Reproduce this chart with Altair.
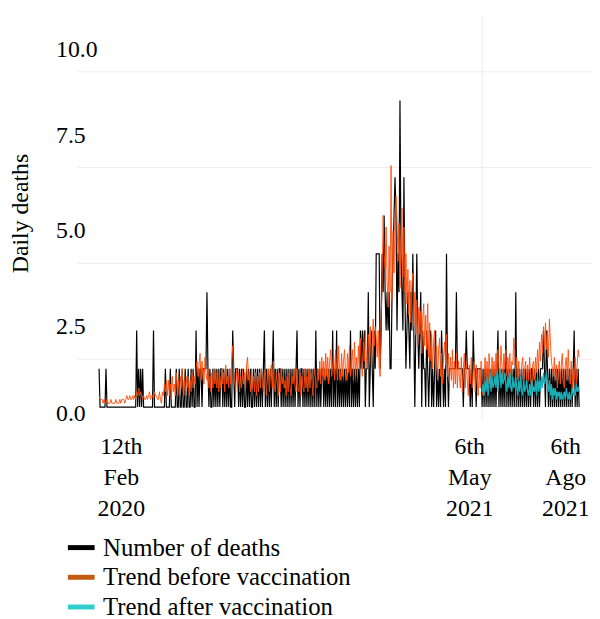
import json
import altair as alt
import pandas as pd

FONT = "Liberation Serif"

# Daily deaths (one value per day index)
deaths_txt = """
1 0 0 0 0 0 0 1 0 0
0 0 0 0 0 0 0 0 0 0
0 0 0 0 0 0 0 0 0 0
0 0 0 0 0 0 0 0 2 0
1 0 1 0 1 0 0 0 0 0
0 0 0 0 0 2 0 0 0 0
0 0 0 0 0 0 0 1 0 0
0 0 1 0 0 0 0 0 1 0
0 1 0 0 1 0 0 1 0 0
1 0 0 1 0 1 0 0 2 0
1 0 1 1 0 1 1 1 1 3
1 0 1 0 0 1 0 1 0 1
0 1 0 1 1 0 1 0 1 0
1 0 1 0 0 2 1 0 1 1
1 0 1 0 1 0 1 0 0 1
0 1 0 1 0 0 1 0 1 0
1 0 1 0 1 0 1 2 0 1
0 1 0 1 0 1 2 0 1 0
1 0 1 1 0 1 0 1 0 1
0 1 0 1 0 1 0 1 0 1
2 0 1 0 1 1 0 1 0 1
0 1 0 1 0 1 0 1 0 2
0 1 0 1 0 1 1 0 1 0
1 0 1 0 1 0 2 0 1 0
2 0 1 0 1 0 1 0 1 0
1 0 1 0 2 0 1 0 1 0
1 0 1 0 2 1 2 1 2 0
1 1 3 0 1 2 1 0 2 1
4 4 4 4 1 2 4 3 5 3
2 3 2 3 1 1 3 4 5 6
5 2 4 3 8 4 3 2 6 3
1 2 3 2 1 3 2 4 2 0
2 4 2 1 2 3 0 2 1 1
0 2 1 0 1 2 0 1 0 1
2 0 1 0 1 0 2 1 0 1
0 4 1 0 1 1 1 1 1 1
1 3 1 1 1 1 1 1 0 1
1 2 1 1 1 0 1 0 2 1
1 0 1 1 1 1 1 0 1 0
1 0 1 0 1 0 1 0 1 0
1 0 1 2 0 1 0 1 0 1
0 2 0 1 0 1 0 1 0 1
0 3 0 1 0 1 0 1 0 1
0 1 0 1 0 1 0 1 1 0
1 0 1 0 1 0 1 1 1 2
1 0 2 1 0 1 0 1 0 1
0 1 0 1 0 1 0 1 0 1
0 1 0 1 0 1 0 1 0 1
2 0 1 0 1 0
"""

# Trend before vaccination (tenths of a death)
before_txt = """
3 2 2 2 1 2 1 1 2 1
1 1 2 1 1 1 1 2 1 1
1 2 1 2 2 2 1 2 3 2
2 3 2 2 3 2 3 2 4 3
5 3 4 3 2 3 2 2 3 2
3 4 2 3 3 2 4 3 3 2
2 4 2 1 4 3 6 4 7 3
7 3 6 2 8 4 6 3 9 4
7 3 8 5 10 4 7 3 8 5
8 3 7 4 9 5 8 6 10 12
8 11 14 7 12 8 6 13 9 7
10 5 8 4 9 5 10 6 9 5
9 4 8 5 10 6 9 4 11 6
8 5 10 6 12 16 9 7 4 10
6 9 4 8 5 10 6 9 5 11
13 7 9 4 10 5 8 4 9 3
8 4 9 5 10 6 4 8 10 3
7 10 4 8 11 5 12 6 4 9
7 3 9 4 10 6 8 5 7 3
8 4 9 5 3 8 6 10 5 4
10 5 4 9 3 8 5 4 10 5
8 4 10 5 9 7 3 8 10 6
5 10 7 12 6 13 8 12 7 14
8 13 6 12 15 8 11 14 7 15
10 7 16 9 7 14 8 12 15 9
7 14 9 16 8 12 15 7 17 9
13 8 16 10 18 11 8 17 12 20
13 10 19 14 21 11 17 23 16 21
18 13 20 10 8 24 32 50 40 36
47 33 26 42 30 63 28 46 35 49
55 50 38 48 31 44 52 34 47 30
40 27 36 24 33 22 31 35 21 30
19 28 16 26 19 25 14 23 27 16
24 15 27 13 22 12 19 10 17 20
9 16 7 15 18 8 14 6 13 17
11 19 8 14 6 13 7 15 5 12
6 14 5 12 8 5 13 4 10 14
5 12 7 3 11 6 13 5 9 12
4 11 6 3 10 5 12 4 3 8
13 7 12 6 14 9 5 13 8 12
7 14 9 15 10 8 16 11 8 14
10 15 8 13 9 14 7 12 11 18
15 8 13 7 12 8 6 11 13 7
10 12 6 11 7 13 8 5 11 12
7 13 9 15 10 17 12 19 14 21
16 22 15 20 13 23 17 12 10 8
13 7 11 5 10 12 6 11 14 7
5 11 13 7 15 8 6 12 5 10
7 13 6 11 15 13
"""

# Trend after vaccination (tenths), starting at day index 387
after_start = 387
after_txt = """
4 6 3
7 4 8 3 6 9 4 8 5 6
8 5 9 4 8 10 5 9 6 7
9 6 4 8 5 9 5 4 8 5
6 8 5 3 7 4 8 4 3 7
4 5 7 4 3 6 3 7 4 5
4 7 3 8 4 7 4 8 5 9
6 7 9 6 4 7 3 6 2 5
3 5 2 4 3 4 2 4 2 3
4 2 5 3 2 4 2 3 5 3
4 3 6 4 5 4
"""

deaths = [int(t) for t in deaths_txt.split()]
trend_before = [int(t) / 10 for t in before_txt.split()]
trend_after = [int(t) / 10 for t in after_txt.split()]

series_names = ["Number of deaths", "Trend before vaccination", "Trend after vaccination"]
legend_colors = ["#000000", "#C55A11", "#33CCCC"]
line_colors = ["#000000", "#FF4A0A", "#1BB0B8"]

x_tick_pos = [22, 374, 471]
x_tick_text = ["12th|Feb|2020", "6th|May|2021", "6th|Ago|2021"]
y_tick_pos = [-0.18, 2.09, 4.6, 7.08, 9.33]
y_tick_text = ["0.0", "2.5", "5.0", "7.5", "10.0"]
grid_y = [1.25, 3.75, 6.25, 8.75]
grid_x = [387]

df_black = pd.DataFrame({"d": list(range(len(deaths))), "v": deaths})
df_before = pd.DataFrame({"d": list(range(len(trend_before))), "v": trend_before})
df_after = pd.DataFrame({"d": [after_start + i for i in range(len(trend_after))], "v": trend_after})
df_legend = pd.DataFrame({"d": [0, 0, 0], "v": [0, 0, 0], "s": series_names})

x_scale = alt.Scale(domain=[-22, 498], nice=False, zero=False)
y_scale = alt.Scale(domain=[-0.36, 10.23], nice=False, zero=False)

x_label_expr = "split(%s[indexof(%s, datum.value)], '|')" % (json.dumps(x_tick_text), json.dumps(x_tick_pos))
y_label_expr = "%s[indexof(%s, datum.value)]" % (json.dumps(y_tick_text), json.dumps(y_tick_pos))

x_axis = alt.Axis(values=x_tick_pos, labelExpr=x_label_expr, grid=False, ticks=False, domain=False,
                  labelFont=FONT, labelFontSize=24, labelColor="black", labelBaseline="top",
                  labelLineHeight=31.5, labelPadding=14, labelFlush=False, labelOverlap=False,
                  labelAlign="center", title=None)
y_axis = alt.Axis(values=y_tick_pos, labelExpr=y_label_expr, grid=False, ticks=False, domain=False,
                  labelFont=FONT, labelFontSize=24, labelColor="black", labelAlign="left",
                  labelPadding=22, labelFlush=False, labelOverlap=False,
                  title="Daily deaths", titleFont=FONT, titleFontSize=24, titleFontWeight="normal",
                  titleColor="black", titleAngle=270, titleX=-57, titleY=200,
                  titleAlign="center", titleBaseline="middle")

X = alt.X("d:Q", scale=x_scale, axis=x_axis)
Y = alt.Y("v:Q", scale=y_scale, axis=y_axis)

hgrid = alt.Chart(pd.DataFrame({"v": grid_y})).mark_rule(color="#EDEDED", strokeWidth=1).encode(y=Y)
vgrid = alt.Chart(pd.DataFrame({"d": grid_x})).mark_rule(color="#EDEDED", strokeWidth=1).encode(x=X)

black = alt.Chart(df_black).mark_line(color=line_colors[0], strokeWidth=1.2).encode(x=X, y=Y)
before = alt.Chart(df_before).mark_line(color=line_colors[1], strokeWidth=1, opacity=0.9).encode(x=X, y=Y)
after = alt.Chart(df_after).mark_line(color=line_colors[2], strokeWidth=1.3).encode(x=X, y=Y)

legend_layer = alt.Chart(df_legend).mark_line(opacity=0).encode(
    x=X, y=Y,
    color=alt.Color("s:N", scale=alt.Scale(domain=series_names, range=legend_colors),
                    legend=alt.Legend(title=None, orient="none", legendX=-12, legendY=522,
                                      symbolType="stroke", symbolStrokeWidth=5, symbolSize=729,
                                      symbolOpacity=1, labelFont=FONT, labelFontSize=25,
                                      labelColor="black", labelOffset=6, labelLimit=500,
                                      rowPadding=1, padding=0, direction="vertical")),
)

chart = alt.layer(hgrid, vgrid, black, before, after, legend_layer).properties(
    width=520, height=410,
    autosize=alt.AutoSizeParams(type="none"),
    padding={"left": 70, "top": 4, "right": 0, "bottom": 197},
).configure_view(strokeWidth=0)

chart.save("out.html", embed_options={"renderer": "svg", "actions": False})
